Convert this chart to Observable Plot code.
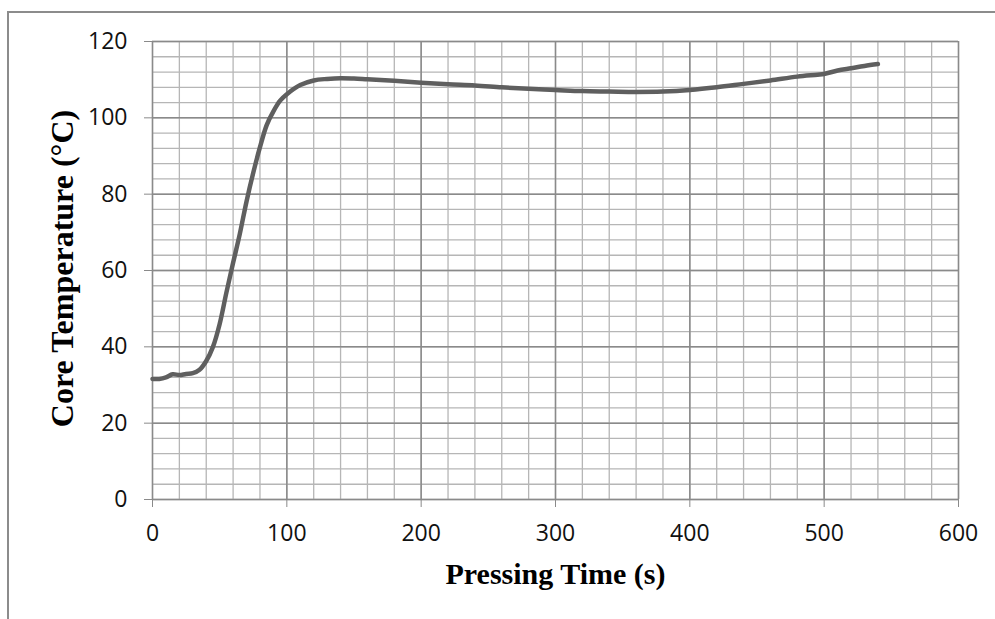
<!DOCTYPE html>
<html><head><meta charset="utf-8">
<script src="https://cdn.jsdelivr.net/npm/d3@7"></script>
<script src="https://cdn.jsdelivr.net/npm/@observablehq/plot@0.6"></script>
<style>
body{margin:0;background:#fff;}
#wrap{position:relative;width:995px;height:619px;overflow:hidden;background:#fff}
#border{position:absolute;left:7px;top:11px;right:-5px;bottom:-5px;border-left:2px solid #8c8c8c;border-top:2px solid #8c8c8c;pointer-events:none}
</style></head><body><div id="wrap"><div id="border"></div></div>
<script>
const timeS = [0,5,10,15,20,25,30,35,40,45,50,55,60,65,70,75,80,85,90,95,100,110,120,130,140,150,160,180,200,220,240,260,280,300,320,340,360,380,400,420,440,460,480,495,500,510,520,530,540];
const coreTempC = [31.6,31.6,32.0,32.8,32.6,32.9,33.1,34.0,36.3,40.0,46.0,54.2,62.0,69.6,78.1,85.6,92.3,98.1,101.7,104.5,106.2,108.6,109.8,110.2,110.4,110.3,110.1,109.7,109.2,108.8,108.5,108.0,107.6,107.3,107.0,106.9,106.8,106.9,107.3,108.0,108.9,109.8,110.8,111.3,111.5,112.4,113.0,113.6,114.1];
const xTicks = [0,100,200,300,400,500,600];
const yTicks = [0,20,40,60,80,100,120];
const xMinor = [0,20,40,60,80,100,120,140,160,180,200,220,240,260,280,300,320,340,360,380,400,420,440,460,480,500,520,540,560,580,600];
const yMinor = [0,4,8,12,16,20,24,28,32,36,40,44,48,52,56,60,64,68,72,76,80,84,88,92,96,100,104,108,112,116,120];
const xTitle = "Pressing Time (s)";
const yTitle = "Core Temperature (°C)";

const data = timeS.map((t, i) => ({t, T: coreTempC[i]}));
const serif = "'Liberation Serif', 'Times New Roman', serif";

const chart = Plot.plot({
  width: 995, height: 619,
  marginLeft: 152, marginRight: 37, marginTop: 41, marginBottom: 120,
  style: {fontFamily: "'Open Sans', sans-serif", fontSize: "23px", color: "#000", background: "transparent"},
  x: {domain: [0, 600]},
  y: {domain: [0, 120]},
  marks: [
    Plot.ruleX(xMinor, {stroke: "#b6b6b6", strokeWidth: 1.3}),
    Plot.ruleY(yMinor, {stroke: "#b6b6b6", strokeWidth: 1.3}),
    Plot.ruleX(xTicks, {stroke: "#8a8a8a", strokeWidth: 1.5}),
    Plot.ruleY(yTicks, {stroke: "#8a8a8a", strokeWidth: 1.5}),
    Plot.axisX({ticks: xTicks, tickSize: 8, tickPadding: 17, stroke: "#8a8a8a", fill: "#111", label: null, fontSize: 23}),
    Plot.axisY({ticks: yTicks, tickSize: 8, tickPadding: 17, stroke: "#8a8a8a", fill: "#111", label: null, fontSize: 23}),
    Plot.line(data, {x: "t", y: "T", stroke: "#5f5f5f", strokeWidth: 4.5, curve: "catmull-rom"}),
    Plot.text([xTitle], {text: d => d, frameAnchor: "bottom", textAnchor: "middle", dy: 84, lineAnchor: "bottom", fontSize: 30, fontWeight: "bold", fontFamily: serif, fill: "#000"}),
    Plot.text([yTitle], {text: d => d, frameAnchor: "left", textAnchor: "middle", dx: -80, dy: -2, rotate: -90, lineAnchor: "bottom", fontSize: 32, fontWeight: "bold", fontFamily: serif, fill: "#000"})
  ]
});
document.getElementById("wrap").prepend(chart);
</script>
</body></html>
